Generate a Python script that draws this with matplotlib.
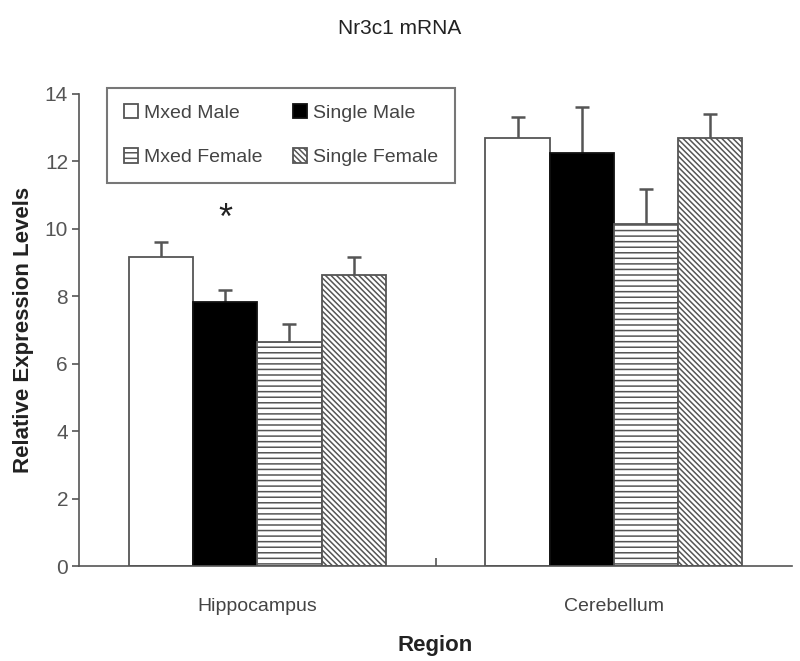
import matplotlib
matplotlib.use("Agg")
import matplotlib.pyplot as plt
import numpy as np

plt.rcParams['font.family'] = ['Liberation Sans', 'DejaVu Sans']
plt.rcParams['hatch.linewidth'] = 1.1

regions = ["Hippocampus", "Cerebellum"]
series = ["Mxed Male", "Single Male", "Mxed Female", "Single Female"]
means = {
    "Mxed Male": [9.17, 12.70],
    "Single Male": [7.83, 12.25],
    "Mxed Female": [6.63, 10.15],
    "Single Female": [8.63, 12.70],
}
errs = {
    "Mxed Male": [0.44, 0.62],
    "Single Male": [0.36, 1.37],
    "Mxed Female": [0.55, 1.04],
    "Single Female": [0.54, 0.71],
}
yticks = [0, 2, 4, 6, 8, 10, 12, 14]

faces = {"Mxed Male": "white", "Single Male": "black",
         "Mxed Female": "white", "Single Female": "white"}
hatches = {"Mxed Male": None, "Single Male": None,
           "Mxed Female": "---", "Single Female": "\\\\\\\\\\\\"}
edges = {"Mxed Male": "#555555", "Single Male": "#111111",
         "Mxed Female": "#555555", "Single Female": "#555555"}

fig = plt.figure(figsize=(8, 6.61), dpi=100)
ax = fig.add_axes([0.099, 0.1437, 0.891, 0.7143])

x = np.arange(len(regions))
w = 0.18
grey = "#555555"
handles = {}
for i, s in enumerate(series):
    pos = x + (i - 1.5) * w
    b = ax.bar(pos, means[s], width=w, color=faces[s], edgecolor=edges[s],
               hatch=hatches[s], linewidth=1.3, label=s, zorder=2)
    handles[s] = b
    eb = ax.errorbar(pos, means[s], yerr=[np.zeros(len(regions)), errs[s]],
                     fmt="none", ecolor=grey, elinewidth=1.8, capsize=5,
                     capthick=1.8, zorder=1)
    eb[1][0].set_visible(False)

# significance marker
ax.text(x[0] - 0.5 * w, 9.75, "*", ha="center", va="bottom", fontsize=26,
        color="#222222")

ax.set_xlim(-0.5, 1.5)
ax.set_ylim(0, 14)
ax.set_yticks(yticks)
ax.set_xticks([0.5])
ax.set_xticklabels([""])
for xi, r in zip(x, regions):
    ax.text(xi, -0.95, r, ha="center", va="top", fontsize=14, color="#444444",
            transform=ax.transData)
ax.tick_params(axis="y", labelsize=15, labelcolor="#555555", direction="out",
               length=5, width=1.2, color=grey, pad=3)
ax.tick_params(axis="x", direction="in", length=6, width=1.2, color=grey)
ax.spines["top"].set_visible(False)
ax.spines["right"].set_visible(False)
ax.spines["left"].set_color(grey)
ax.spines["bottom"].set_color(grey)
ax.spines["left"].set_linewidth(1.2)
ax.spines["bottom"].set_linewidth(1.2)

ax.set_ylabel("Relative Expression Levels", fontsize=16, fontweight="bold",
              color="#222222", labelpad=8)
ax.set_xlabel("Region", fontsize=16, fontweight="bold", color="#222222",
              labelpad=46)
fig.text(0.5, 0.957, "Nr3c1 mRNA", ha="center", va="center", fontsize=15,
         color="#222222")

order = ["Mxed Male", "Mxed Female", "Single Male", "Single Female"]
leg = ax.legend([handles[s] for s in order], order, ncol=2, loc="upper left",
                bbox_to_anchor=(0.039, 1.013),
                fontsize=14, frameon=True, fancybox=False, edgecolor="#555555",
                handlelength=0.75, handleheight=0.75, handletextpad=0.3,
                columnspacing=1.55, labelspacing=1.35, borderpad=0.85,
                borderaxespad=0.0)
leg.get_frame().set_linewidth(1.5)
for t in leg.get_texts():
    t.set_color("#444444")

fig.savefig("out.png", dpi=100)
